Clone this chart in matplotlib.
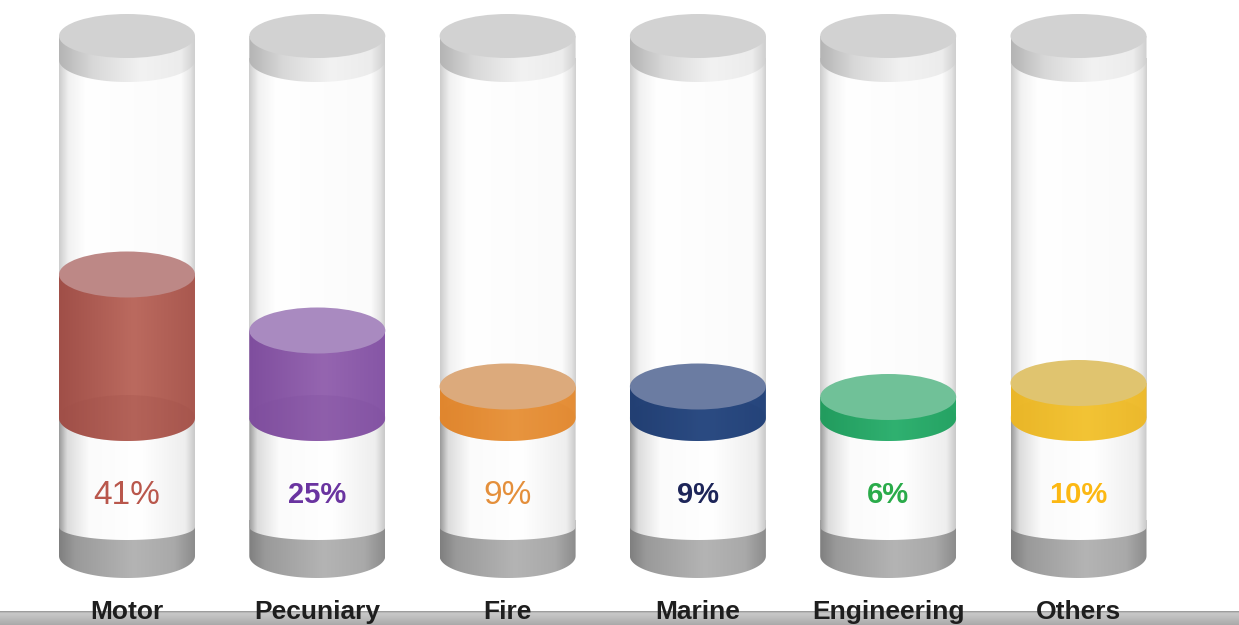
import matplotlib
matplotlib.use("Agg")
import matplotlib.pyplot as plt
import numpy as np
from matplotlib import font_manager
from matplotlib.colors import LinearSegmentedColormap
from matplotlib.patches import Ellipse, Polygon, Rectangle


categories = ["Motor", "Pecuniary", "Fire", "Marine", "Engineering", "Others"]
shares = [41, 25, 9, 9, 6, 10]
share_labels = ["41%", "25%", "9%", "9%", "6%", "10%"]

# liquid body colours (left shade, light middle, right shade) and top face colour
liquid_body = [
    ("#a04f48", "#bb6a5f", "#a9584f"),
    ("#7f4e9e", "#9565b0", "#8656a6"),
    ("#e0862e", "#eb9a45", "#e48d36"),
    ("#223f73", "#2f5088", "#26457c"),
    ("#229c5e", "#35b877", "#27a666"),
    ("#eab628", "#f6c93a", "#edba2e"),
]
liquid_top = ["#bd8886", "#a98ac0", "#dcaa7c", "#6b7ca2", "#70c198", "#e0c46f"]
label_colors = ["#b9574c", "#6a34a0", "#e48f3b", "#1d2559", "#2aab4a", "#fcb813"]
label_condensed = [False, True, False, True, True, True]

W, H = 1239, 625
X0, DX = 127, 190.3
R = 68
PX_PER_PCT = 3.5
LIQ_BASE = 418
OUTPUT_PATH = "out.png"

names = {f.name for f in font_manager.fontManager.ttflist}
SANS = "Liberation Sans" if "Liberation Sans" in names else "DejaVu Sans"
NARROW = "Liberation Sans Narrow" if "Liberation Sans Narrow" in names else SANS


def gradient_fill(ax, clip, extent, stops, z, vertical=False):
    cmap = LinearSegmentedColormap.from_list("g", stops)
    g = cmap(np.linspace(0, 1, 256))[None, :, :]
    if vertical:
        g = np.transpose(g, (1, 0, 2))
    im = ax.imshow(g, extent=extent, aspect="auto", interpolation="bilinear", zorder=z)
    im.set_clip_path(clip)
    return im


def side_body(ax, cx, y_top, y_bot, sag, stops, z):
    t = np.linspace(0, np.pi, 60)
    front = np.column_stack([cx + R * np.cos(t), y_bot + sag * np.sin(t)])
    pts = np.vstack([[cx - R, y_top], [cx + R, y_top], front])
    poly = Polygon(pts, closed=True, facecolor="none", edgecolor="none", zorder=z)
    ax.add_patch(poly)
    gradient_fill(ax, poly, [cx - R, cx + R, y_bot + sag, y_top], stops, z)


def draw_cylinder(ax, i, cx, value):
    # grey base
    side_body(ax, cx, 520, 556, 22,
              [(0, "#7f7f7f"), (0.12, "#9a9a9a"), (0.55, "#b4b4b4"), (0.85, "#a9a9a9"), (1, "#8c8c8c")], 1)
    # glass tube above liquid
    tube = Rectangle((cx - R, 58), 2 * R, LIQ_BASE - 58, facecolor="none", edgecolor="none", zorder=2)
    ax.add_patch(tube)
    gradient_fill(ax, tube, [cx - R, cx + R, LIQ_BASE, 58],
                  [(0, "#cdcdcd"), (0.07, "#f1f1f1"), (0.2, "#ffffff"), (0.9, "#fbfbfb"),
                   (0.97, "#e4e4e4"), (1, "#d0d0d0")], 2)
    # white lower body
    side_body(ax, cx, LIQ_BASE, 527, 13,
              [(0, "#9b9b9b"), (0.06, "#dcdcdc"), (0.22, "#fbfbfb"), (0.6, "#ffffff"),
               (0.93, "#eeeeee"), (1, "#c9c9c9")], 3)
    # liquid
    y_top = LIQ_BASE - value * PX_PER_PCT
    left, mid, right = liquid_body[i]
    side_body(ax, cx, y_top, LIQ_BASE, 23,
              [(0, left), (0.55, mid), (1, right)], 4)
    ax.add_patch(Ellipse((cx, LIQ_BASE), 2 * R, 46, facecolor=left, edgecolor="none",
                         alpha=0.25, zorder=4.5))
    ax.add_patch(Ellipse((cx, y_top), 2 * R, 46, facecolor=liquid_top[i], edgecolor="none", zorder=5))
    # cap
    side_body(ax, cx, 36, 60, 22,
              [(0, "#b4b4b4"), (0.25, "#d8d8d8"), (0.6, "#f2f2f2"), (0.9, "#ececec"), (1, "#cfcfcf")], 6)
    ax.add_patch(Ellipse((cx, 36), 2 * R, 44, facecolor="#d2d2d2", edgecolor="none", zorder=7))

    # percentage label
    if label_condensed[i]:
        ax.text(cx, 495, share_labels[i], ha="center", va="center", fontsize=21,
                fontweight="bold", family=NARROW, color=label_colors[i], zorder=8)
    else:
        ax.text(cx, 495, share_labels[i], ha="center", va="center", fontsize=24,
                family=SANS, color=label_colors[i], zorder=8)


def main():
    fig = plt.figure(figsize=(W / 100, H / 100), dpi=100)
    ax = fig.add_axes([0, 0, 1, 1])
    ax.set_xlim(0, W)
    ax.set_ylim(H, 0)
    ax.axis("off")

    for i, value in enumerate(shares):
        cx = X0 + i * DX
        draw_cylinder(ax, i, cx, value)
        ax.text(cx, 619, categories[i], ha="center", va="baseline", fontsize=19,
                fontweight="bold", family=SANS, color="#1e1e1e", zorder=10)

    # floor strip
    floor = Rectangle((0, 611), W, H - 611, facecolor="none", edgecolor="none", zorder=9)
    ax.add_patch(floor)
    gradient_fill(ax, floor, [0, W, H, 611],
                  [(0, "#8f8f8f"), (0.15, "#c9c9c9"), (0.5, "#bdbdbd"), (1, "#a9a9a9")], 9,
                  vertical=True)

    ax.set_xlim(0, W)
    ax.set_ylim(H, 0)
    fig.savefig(OUTPUT_PATH, dpi=100)


if __name__ == "__main__":
    main()
